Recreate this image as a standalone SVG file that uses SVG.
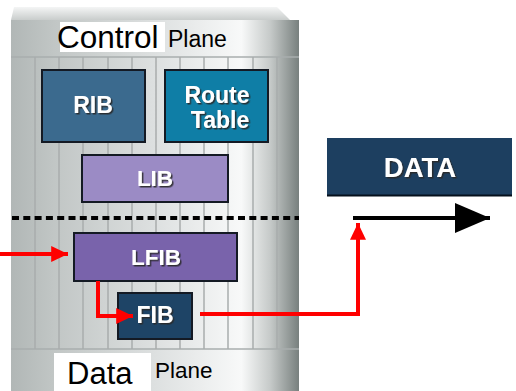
<svg xmlns="http://www.w3.org/2000/svg" width="516" height="391" viewBox="0 0 516 391">
  <style>
    .lbl { font-family: "Liberation Sans", Arial, sans-serif; font-weight: bold; fill: #ffffff; text-anchor: middle; filter: url(#shadow); }
    .plane { font-family: "Liberation Sans", Arial, sans-serif; fill: #000000; }
    .box { stroke: #141a24; stroke-width: 2; }
    .grid { stroke: #a8adad; stroke-width: 1.5; }
    .red { stroke: #ff0000; stroke-width: 4; fill: none; }
  </style>
  <defs>
    <linearGradient id="body" x1="0" y1="0" x2="1" y2="0">
      <stop offset="0" stop-color="#b1b7b6"/>
      <stop offset="0.15" stop-color="#c1c6c5"/>
      <stop offset="0.5" stop-color="#dde0e0"/>
      <stop offset="0.8" stop-color="#f8f9f9"/>
      <stop offset="0.9" stop-color="#c6cac9"/>
      <stop offset="1" stop-color="#78807e"/>
    </linearGradient>
    <linearGradient id="cap" x1="0" y1="0" x2="0" y2="1">
      <stop offset="0" stop-color="#f4f5f5"/>
      <stop offset="1" stop-color="#c9cdcc"/>
    </linearGradient>
    <filter id="shadow" x="-20%" y="-20%" width="140%" height="150%">
      <feDropShadow dx="1.5" dy="1.5" stdDeviation="0.6" flood-color="#2a2a2a" flood-opacity="0.9"/>
    </filter>
    <marker id="redHead" viewBox="0 0 10 10" refX="10" refY="5" markerWidth="4.2" markerHeight="4" markerUnits="strokeWidth" orient="auto" preserveAspectRatio="none">
      <path d="M0,0 L10,5 L0,10 Z" fill="#ff0000"/>
    </marker>
    <marker id="blackHead" viewBox="0 0 10 10" refX="10" refY="5" markerWidth="8.8" markerHeight="7.5" markerUnits="strokeWidth" orient="auto" preserveAspectRatio="none">
      <path d="M0,0 L10,5 L0,10 Z" fill="#000000"/>
    </marker>
  </defs>

  <rect width="516" height="391" fill="#ffffff"/>

  <!-- router chassis -->
  <g id="chassis">
    <polygon points="14,7 277,7 290,20 11,20" fill="url(#cap)"/>
    <rect x="11" y="20" width="288" height="371" fill="url(#body)"/>
    <line x1="11" y1="57" x2="299" y2="57" stroke="#a9aeae" stroke-width="1.5"/>
    <line x1="11" y1="349" x2="299" y2="349" stroke="#a9aeae" stroke-width="1.5"/>
    <g class="grid">
      <line x1="35" y1="57" x2="35" y2="349"/>
      <line x1="59" y1="57" x2="59" y2="349"/>
      <line x1="83" y1="57" x2="83" y2="349"/>
      <line x1="108" y1="57" x2="108" y2="349"/>
      <line x1="132" y1="57" x2="132" y2="349"/>
      <line x1="156" y1="57" x2="156" y2="349"/>
      <line x1="180" y1="57" x2="180" y2="349"/>
      <line x1="204" y1="57" x2="204" y2="349"/>
      <line x1="228" y1="57" x2="228" y2="349"/>
      <line x1="253" y1="57" x2="253" y2="349"/>
      <line x1="277" y1="57" x2="277" y2="349"/>
    </g>
    <!-- control / data plane divider -->
    <line x1="12" y1="218" x2="299" y2="218" stroke="#000000" stroke-width="4" stroke-dasharray="7 4.3"/>
  </g>

  <g id="control-plane-label">
    <rect x="60" y="22" width="105" height="30" fill="#ffffff"/>
    <text class="plane" x="57" y="48" font-size="31.5">Control</text>
    <text class="plane" x="168" y="47" font-size="23">Plane</text>
  </g>

  <g id="data-plane-label">
    <rect x="54" y="353" width="97" height="38" fill="#ffffff"/>
    <text class="plane" x="67" y="384" font-size="31">Data</text>
    <text class="plane" x="155" y="378" font-size="22.5">Plane</text>
  </g>

  <g id="rib">
    <rect class="box" x="42" y="70" width="103" height="72" fill="#3b6a8e"/>
    <text class="lbl" x="93" y="113" font-size="23">RIB</text>
  </g>

  <g id="route-table">
    <rect class="box" x="165" y="70" width="103" height="72" fill="#0f7ea6"/>
    <text class="lbl" x="217" y="103" font-size="23">Route</text>
    <text class="lbl" x="220" y="128" font-size="23">Table</text>
  </g>

  <g id="lib">
    <rect class="box" x="82" y="155" width="146" height="47" fill="#9b8bc5"/>
    <text class="lbl" x="155" y="186" font-size="22.5">LIB</text>
  </g>

  <g id="lfib">
    <rect class="box" x="74" y="233" width="163" height="48" fill="#7963ab"/>
    <text class="lbl" x="156" y="265" font-size="22.5">LFIB</text>
  </g>

  <g id="fib">
    <rect class="box" x="118" y="293" width="74" height="46" fill="#1e4466"/>
    <text class="lbl" x="155" y="323" font-size="23">FIB</text>
  </g>

  <g id="data">
    <rect x="327" y="138" width="185" height="58" fill="#1d3f60"/>
    <line x1="327" y1="195.5" x2="512" y2="195.5" stroke="#05101c" stroke-width="2"/>
    <text class="lbl" x="420" y="177" font-size="27.5">DATA</text>
  </g>

  <!-- connectors -->
  <g id="connectors">
    <polyline class="red" points="0,254 68,254" marker-end="url(#redHead)"/>
    <polyline class="red" points="98,281 98,316 133,316" marker-end="url(#redHead)"/>
    <polyline class="red" points="200,314 358,314 358,223" marker-end="url(#redHead)"/>
    <polyline points="353,218 490,218" stroke="#000000" stroke-width="4" fill="none" marker-end="url(#blackHead)"/>
  </g>
</svg>
